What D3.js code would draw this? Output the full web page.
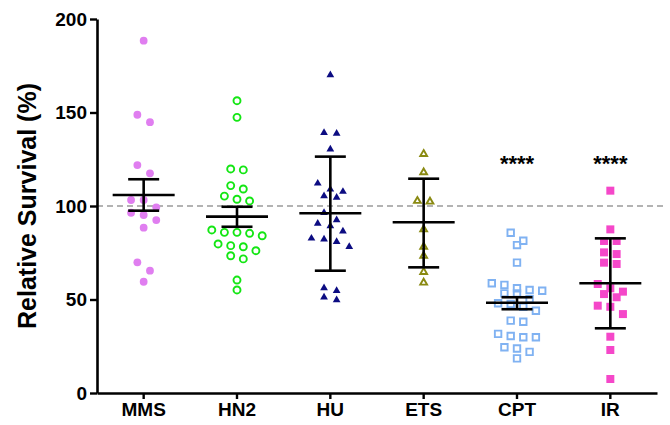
<!DOCTYPE html>
<html>
<head>
<meta charset="utf-8">
<script src="https://cdn.jsdelivr.net/npm/d3@7"></script>
<style>
  body { margin: 0; background: #fff; }
  svg text { font-family: "Liberation Sans", Arial, sans-serif; font-weight: bold; }
</style>
</head>
<body>
<div id="chart"></div>
<script>
// groups and values
var groups = ["MMS", "HN2", "HU", "ETS", "CPT", "IR"];

var mms_values = [188.4, 148.8, 144.8, 121.9, 117.5, 103.2, 103.2, 99.3, 96.4, 95.2, 92.5, 88.4, 69.9, 65.4, 59.5];
var hn2_values = [156.3, 147.4, 119.8, 119.3, 110.9, 109.1, 105.3, 103.6, 102.7, 87.2, 85.9, 85.9, 85.4, 84.1,
                  79.7, 78.8, 78.2, 76.1, 73.4, 71.7, 60.4, 55.1];
var hu_values = [170.1, 139.2, 138.8, 130.3, 112.1, 108.9, 107.7, 105.3, 104.6, 96.4, 92.5, 90.7, 89.3, 86.5,
                 82.7, 82.2, 80.9, 78.2, 56.1, 54.7, 51.2, 49.7];
var ets_values = [127.8, 118.0, 102.7, 102.3, 87.5, 78.2, 73.3, 64.7, 59.0];
var cpt_values = [85.7, 81.4, 79.1, 69.7, 58.7, 57.8, 56.0, 55.1, 54.7, 53.3, 53.2, 50.1, 48.0, 47.6, 46.1, 44.0,
                  38.7, 38.1, 31.6, 30.5, 29.8, 29.8, 24.5, 23.8, 22.0, 18.5];
var ir_values = [108.2, 87.5, 81.3, 81.3, 75.2, 74.3, 69.7, 69.0, 58.3, 56.0, 54.2, 52.9, 51.2, 46.7, 46.1, 42.2,
                 30.1, 23.0, 7.5];

var means = [105.9, 94.3, 96.1, 91.3, 48.3, 58.7];
var err_low = [97.5, 88.9, 65.4, 67.2, 44.8, 34.6];
var err_high = [114.3, 99.6, 126.4, 114.6, 51.2, 82.7];
var star_labels = ["", "", "", "", "****", "****"];

var y_ticks = [0, 50, 100, 150, 200];
var ref_value = 100;

var all_values = [mms_values, hn2_values, hu_values, ets_values, cpt_values, ir_values];

// marker style per group
var marker_styles = [
  { shape: "circle", fill: "#e07ef0", stroke: "none" },
  { shape: "circle", fill: "none", stroke: "#14e614" },
  { shape: "triangle", fill: "#0c0c82", stroke: "none" },
  { shape: "triangle", fill: "none", stroke: "#8a8a12" },
  { shape: "square", fill: "none", stroke: "#80b2f2" },
  { shape: "square", fill: "#f547c9", stroke: "none" }
];

var width = 670, height = 425;

var svg = d3.select("#chart")
  .append("svg")
  .attr("width", width)
  .attr("height", height);

var x_scale = d3.scaleBand()
  .domain(groups)
  .range([97, 657])
  .padding(0);

var y_scale = d3.scaleLinear()
  .domain([0, 200])
  .range([393, 19]);

// dashed reference line at 100 %
svg.append("line")
  .attr("x1", 97)
  .attr("x2", 666)
  .attr("y1", y_scale(ref_value))
  .attr("y2", y_scale(ref_value))
  .attr("stroke", "#9a9a9a")
  .attr("stroke-width", 1.6)
  .style("stroke-dasharray", ("6, 4"));

// prism style scatter: points close in y share a row and spread out symmetrically
function spread_rows(values, cx) {
  var row_h = 9, max_w = 58;
  var sorted = values.slice().sort(function(a, b) { return b - a; });
  var rows = [], cur = null;
  sorted.forEach(function(v) {
    var y = y_scale(v);
    if (!cur || y - cur.y0 > row_h) {
      cur = { y0: y, pts: [] };
      rows.push(cur);
    }
    cur.pts.push({ v: v, y: y });
  });
  var out = [];
  rows.forEach(function(r) {
    var n = r.pts.length;
    var sp = n > 1 ? Math.min(12.6, max_w / (n - 1)) : 0;
    r.pts.forEach(function(p, j) {
      out.push({ x: cx + (j - (n - 1) / 2) * sp, y: p.y, v: p.v });
    });
  });
  return out;
}

groups.forEach(function(g, i) {
  var cx = x_scale(g) + x_scale.bandwidth() / 2;
  var pts = spread_rows(all_values[i], cx);
  var st = marker_styles[i];
  var sel = svg.append("g").attr("class", "points_" + g);

  if (st.shape === "circle") {
    sel.selectAll("circle")
      .data(pts)
      .enter()
      .append("circle")
      .attr("cx", function(d) { return d.x; })
      .attr("cy", function(d) { return d.y; })
      .attr("r", st.fill === "none" ? 3.5 : 3.9)
      .attr("fill", st.fill)
      .attr("stroke", st.stroke)
      .attr("stroke-width", 1.9);
  } else {
    var sym = st.shape === "triangle" ? d3.symbolTriangle : d3.symbolSquare;
    var size = st.shape === "triangle" ? (st.fill === "none" ? 20 : 26) : (st.fill === "none" ? 42 : 64);
    sel.selectAll("path")
      .data(pts)
      .enter()
      .append("path")
      .attr("transform", function(d) { return "translate(" + d.x + "," + d.y + ")"; })
      .attr("d", d3.symbol().type(sym).size(size))
      .attr("fill", st.fill)
      .attr("stroke", st.stroke)
      .attr("stroke-width", 1.9);
  }
});

// mean and error bars
var bars = svg.append("g").attr("class", "mean_bars");
groups.forEach(function(g, i) {
  var cx = x_scale(g) + x_scale.bandwidth() / 2;
  bars.append("line")
    .attr("x1", cx).attr("x2", cx)
    .attr("y1", y_scale(err_low[i])).attr("y2", y_scale(err_high[i]))
    .attr("stroke", "#000").attr("stroke-width", 2.6);
  bars.append("line")
    .attr("x1", cx - 31).attr("x2", cx + 31)
    .attr("y1", y_scale(means[i])).attr("y2", y_scale(means[i]))
    .attr("stroke", "#000").attr("stroke-width", 2.6);
  [err_low[i], err_high[i]].forEach(function(e) {
    bars.append("line")
      .attr("x1", cx - 15.5).attr("x2", cx + 15.5)
      .attr("y1", y_scale(e)).attr("y2", y_scale(e))
      .attr("stroke", "#000").attr("stroke-width", 2.6);
  });
  if (star_labels[i]) {
    svg.append("text")
      .attr("x", cx)
      .attr("y", 171)
      .attr("text-anchor", "middle")
      .style("font-size", "22px")
      .text(star_labels[i]);
  }
});

// axes
var y_axis = svg.append("g")
  .attr("transform", "translate(97,0)")
  .call(d3.axisLeft(y_scale).tickValues(y_ticks).tickSize(7).tickPadding(3).tickSizeOuter(0));

var x_axis = svg.append("g")
  .attr("transform", "translate(0,393)")
  .call(d3.axisBottom(x_scale).tickSize(6).tickPadding(4).tickSizeOuter(0));

[y_axis, x_axis].forEach(function(ax) {
  ax.select(".domain").attr("stroke", "#000").attr("stroke-width", 2.6);
  ax.selectAll(".tick line").attr("stroke", "#000").attr("stroke-width", 2.4);
  ax.selectAll(".tick text")
    .attr("fill", "#000")
    .style("font-family", "'Liberation Sans', Arial, sans-serif")
    .style("font-weight", "bold")
    .style("font-size", "19px");
});

svg.append("text")
  .attr("transform", "translate(36,206) rotate(-90)")
  .attr("text-anchor", "middle")
  .style("font-size", "25px")
  .text("Relative Survival (%)");
</script>
</body>
</html>
